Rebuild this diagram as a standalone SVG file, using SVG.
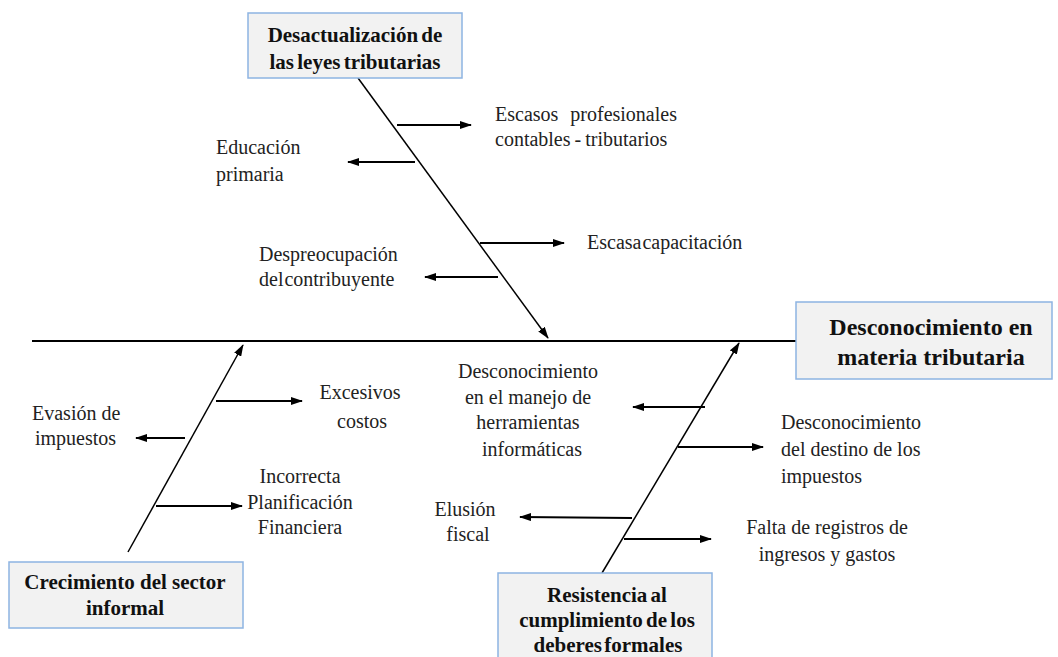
<svg xmlns="http://www.w3.org/2000/svg" width="1058" height="657" viewBox="0 0 1058 657">
<style>
.box{fill:#f2f2f2;stroke:#8db4e2;stroke-width:1.5}
.bt{font-family:"Liberation Serif","Times New Roman",serif;font-weight:bold;font-size:21px;fill:#111;text-anchor:middle}
.mt{font-family:"Liberation Serif","Times New Roman",serif;font-weight:bold;font-size:24px;fill:#111;text-anchor:middle}
.t{font-family:"Liberation Serif","Times New Roman",serif;font-size:20px;fill:#222}
.c{text-anchor:middle}
.bone{stroke:#000;stroke-width:1.5;fill:none}
.sub{stroke:#000;stroke-width:2;fill:none}
</style>
<defs>
<marker id="ah" markerUnits="userSpaceOnUse" markerWidth="12" markerHeight="8" refX="11" refY="4" orient="auto">
<path d="M0,0 L12,4 L0,8 z" fill="#000"/>
</marker>
</defs>
<rect width="1058" height="657" fill="#fff"/>
<g id="connectors">
<line class="sub" x1="32" y1="341" x2="796" y2="341"/>
<line class="bone" x1="358" y1="78" x2="548" y2="338" marker-end="url(#ah)"/>
<line class="bone" x1="128" y1="552" x2="243" y2="345" marker-end="url(#ah)"/>
<line class="bone" x1="602" y1="573" x2="739" y2="343" marker-end="url(#ah)"/>
<line class="sub" x1="397" y1="125" x2="471" y2="125" marker-end="url(#ah)"/>
<line class="sub" x1="415" y1="162" x2="348" y2="162" marker-end="url(#ah)"/>
<line class="sub" x1="480" y1="243" x2="564" y2="243" marker-end="url(#ah)"/>
<line class="sub" x1="498" y1="277" x2="425" y2="277" marker-end="url(#ah)"/>
<line class="sub" x1="216" y1="401" x2="302" y2="401" marker-end="url(#ah)"/>
<line class="sub" x1="185" y1="438" x2="136" y2="438" marker-end="url(#ah)"/>
<line class="sub" x1="156" y1="506" x2="242" y2="506" marker-end="url(#ah)"/>
<line class="sub" x1="705" y1="407" x2="633" y2="407" marker-end="url(#ah)"/>
<line class="sub" x1="678" y1="447" x2="763" y2="447" marker-end="url(#ah)"/>
<line class="sub" x1="632" y1="518" x2="520" y2="517" marker-end="url(#ah)"/>
<line class="sub" x1="624" y1="539" x2="711" y2="539" marker-end="url(#ah)"/>
</g>
<g id="n-main">
<rect class="box" x="796" y="302" width="256" height="77"/>
<text class="mt" x="931" y="335">Desconocimiento  en</text>
<text class="mt" x="931" y="365">materia  tributaria</text>
</g>
<g id="n-desact">
<rect class="box" x="248" y="13" width="214" height="65"/>
<text class="bt" x="355" y="42" word-spacing="-2">Desactualización de</text>
<text class="bt" x="355" y="69" word-spacing="-2">las leyes tributarias</text>
</g>
<g id="n-crec">
<rect class="box" x="9" y="562" width="234" height="66"/>
<text class="bt" x="125" y="589">Crecimiento del sector</text>
<text class="bt" x="125" y="615">informal</text>
</g>
<g id="n-resist">
<rect class="box" x="498" y="573" width="214" height="95"/>
<text class="bt" x="607" y="602" word-spacing="-2">Resistencia al</text>
<text class="bt" x="607" y="627" word-spacing="-2">cumplimiento de los</text>
<text class="bt" x="608" y="652" word-spacing="-3">deberes formales</text>
</g>
<g id="n-escasos">
<text class="t" x="495" y="121" word-spacing="7">Escasos profesionales</text>
<text class="t" x="495" y="146" word-spacing="-1">contables - tributarios</text>
</g>
<g id="n-educ">
<text class="t" x="216" y="154">Educación</text>
<text class="t" x="216" y="181">primaria</text>
</g>
<g id="n-escasa">
<text class="t" x="587" y="249" word-spacing="-4">Escasa capacitación</text>
</g>
<g id="n-despreo">
<text class="t" x="259" y="261">Despreocupación</text>
<text class="t" x="259" y="286" word-spacing="-4">del contribuyente</text>
</g>
<g id="n-exces">
<text class="t c" x="360" y="399">Excesivos</text>
<text class="t c" x="362" y="428">costos</text>
</g>
<g id="n-evasion">
<text class="t" x="32" y="420">Evasión de</text>
<text class="t" x="35" y="445">impuestos</text>
</g>
<g id="n-incorr">
<text class="t c" x="300" y="483">Incorrecta</text>
<text class="t c" x="300" y="509">Planificación</text>
<text class="t c" x="300" y="534">Financiera</text>
</g>
<g id="n-herram">
<text class="t c" x="528" y="378">Desconocimiento</text>
<text class="t c" x="528" y="404">en el manejo de</text>
<text class="t c" x="528" y="429">herramientas</text>
<text class="t c" x="532" y="456">informáticas</text>
</g>
<g id="n-destino">
<text class="t" x="781" y="429">Desconocimiento</text>
<text class="t" x="781" y="456">del destino de los</text>
<text class="t" x="781" y="483">impuestos</text>
</g>
<g id="n-elusion">
<text class="t c" x="465" y="516">Elusión</text>
<text class="t c" x="468" y="541">fiscal</text>
</g>
<g id="n-falta">
<text class="t c" x="827" y="534">Falta de registros de</text>
<text class="t c" x="827" y="561">ingresos y gastos</text>
</g>
</svg>
